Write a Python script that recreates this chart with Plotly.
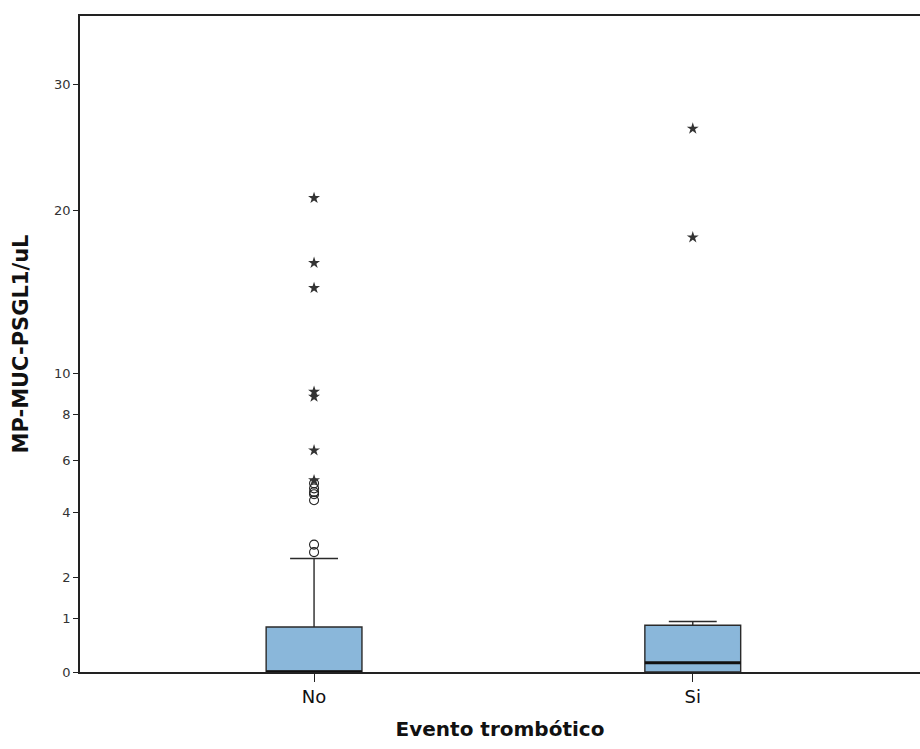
import numpy as np
import plotly.graph_objects as go

# ---- data (original units) ----
categories = ["No", "Si"]
q1 = [0.0, 0.0]
median = [0.0, 0.15]
q3 = [0.82, 0.86]
lowerfence = [0.0, 0.0]
upperfence = [2.54, 0.94]

# mild outliers (circles) and extreme outliers (stars)
circle_no = [2.96, 2.73, 5.08, 4.89, 4.75, 4.67, 4.45]
star_no = [20.93, 16.46, 14.87, 9.1, 8.85, 6.41, 5.2]
circle_si = []
star_si = [26.27, 18.16]

ytick_values = [0, 1, 2, 4, 6, 8, 10, 20, 30]


def f(v):
    # axis scale: sqrt(v + 1) - 1
    return np.sqrt(np.asarray(v, dtype=float) + 1.0) - 1.0


box_w = 0.253
xs = list(range(len(categories)))

fig = go.Figure()

fill = "#8AB7DA"
outline = "#2a2a2a"

for i, cat in enumerate(categories):
    fig.add_trace(go.Box(
        x=[i],
        q1=[float(f(q1[i]))], median=[float(f(median[i]))], q3=[float(f(q3[i]))],
        lowerfence=[float(f(lowerfence[i]))], upperfence=[float(f(upperfence[i]))],
        width=box_w, whiskerwidth=0.5,
        fillcolor=fill, line=dict(color=outline, width=1.4),
        boxpoints=False, showlegend=False, hoverinfo="skip", name=cat,
    ))
    # thick median line
    m = float(f(median[i]))
    fig.add_trace(go.Scatter(
        x=[i - box_w / 2, i + box_w / 2], y=[m, m], mode="lines",
        line=dict(color="#111111", width=3), showlegend=False, hoverinfo="skip",
    ))

circles = [circle_no, circle_si]
stars = [star_no, star_si]
for i in xs:
    if circles[i]:
        fig.add_trace(go.Scatter(
            x=[i] * len(circles[i]), y=f(circles[i]), mode="markers",
            marker=dict(symbol="circle-open", size=9, color="#222222", line=dict(width=1.1)),
            showlegend=False, hoverinfo="skip",
        ))
    if stars[i]:
        fig.add_trace(go.Scatter(
            x=[i] * len(stars[i]), y=f(stars[i]), mode="markers",
            marker=dict(symbol="star", size=9, color="#333333"),
            showlegend=False, hoverinfo="skip",
        ))

font_family = "DejaVu Sans"

fig.update_layout(
    width=920, height=749,
    margin=dict(l=80, r=0, t=16, b=77),
    plot_bgcolor="white", paper_bgcolor="white",
    font=dict(family=font_family, color="#222222"),
    xaxis=dict(
        range=[-0.618, 1.6],
        tickmode="array", tickvals=xs, ticktext=categories,
        tickfont=dict(size=18, color="#111111"),
        ticks="outside", ticklen=8, tickcolor="#222222", tickwidth=1,
        showgrid=False, zeroline=False,
        showline=True, linecolor="#222222", linewidth=1.5, mirror=True,
        title=dict(text="<b>Evento trombótico</b>", font=dict(size=20, color="#111111"), standoff=16),
    ),
    yaxis=dict(
        range=[0, 5.097],
        tickmode="array", tickvals=f(ytick_values), ticktext=[str(v) for v in ytick_values],
        tickfont=dict(size=13, color="#333333"),
        ticks="outside", ticklen=5, tickcolor="#222222", tickwidth=1,
        showgrid=False, zeroline=False,
        showline=True, linecolor="#222222", linewidth=1.5, mirror=False,
        title=dict(text="<b>MP-MUC-PSGL1/uL</b>", font=dict(size=21, color="#111111"), standoff=20),
    ),
)

fig.write_html("out.html")
